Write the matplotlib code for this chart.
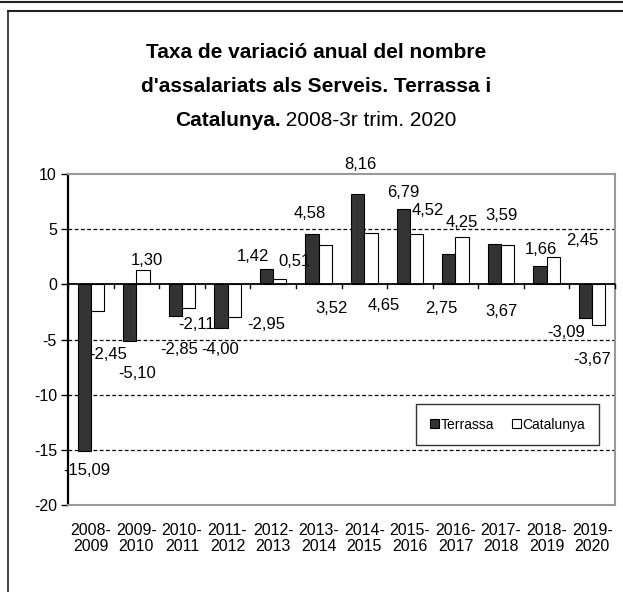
import numpy as np
import matplotlib
matplotlib.use("Agg")
import matplotlib.pyplot as plt
from matplotlib.lines import Line2D

plt.rcParams['font.family'] = ['Liberation Sans', 'DejaVu Sans']
plt.rcParams['axes.unicode_minus'] = False

# dades
periodes = ['2008-\n2009', '2009-\n2010', '2010-\n2011', '2011-\n2012', '2012-\n2013', '2013-\n2014',
            '2014-\n2015', '2015-\n2016', '2016-\n2017', '2017-\n2018', '2018-\n2019', '2019-\n2020']
terrassa = [-15.09, -5.10, -2.85, -4.00, 1.42, 4.58, 8.16, 6.79, 2.75, 3.67, 1.66, -3.09]
catalunya = [-2.45, 1.30, -2.11, -2.95, 0.51, 3.52, 4.65, 4.52, 4.25, 3.59, 2.45, -3.67]

# posicio de les etiquetes (desplaçament x respecte la categoria, y absoluta)
etq_t_dx = [-0.08, 0.01, -0.07, -0.17, -0.44, -0.19, -0.08, -0.15, -0.30, 0.00, -0.13, -0.58]
etq_t_y = [-16.9, -8.1, -5.9, -5.9, 2.5, 6.4, 10.9, 8.3, -2.2, -2.5, 3.2, -4.4]
etq_c_dx = [0.38, 0.23, 0.33, 0.84, 0.46, 0.29, 0.43, 0.39, 0.14, 0.02, 0.79, -0.01]
etq_c_y = [-6.4, 2.2, -3.6, -3.6, 2.1, -2.2, -1.9, 6.7, 5.6, 6.2, 4.0, -6.8]

fig = plt.figure(figsize=(6.23, 5.92), dpi=100)
ax = fig.add_axes([68 / 623, 1 - 505 / 592, 547 / 623, 331 / 592])

x = np.arange(len(periodes))
w = 0.29
ax.bar(x - w / 2, terrassa, w, color='#333333', edgecolor='black', linewidth=0.8, label='Terrassa', zorder=3)
ax.bar(x + w / 2, catalunya, w, color='white', edgecolor='black', linewidth=0.8, label='Catalunya', zorder=3)

# etiquetes de valor amb coma decimal
for i in range(len(periodes)):
    ax.text(i + etq_t_dx[i], etq_t_y[i], f"{terrassa[i]:.2f}".replace('.', ','),
            ha='center', va='center', fontsize=12)
    ax.text(i + etq_c_dx[i], etq_c_y[i], f"{catalunya[i]:.2f}".replace('.', ','),
            ha='center', va='center', fontsize=12)

ax.set_xlim(-0.5, len(periodes) - 0.5)
ax.set_ylim(-20, 10)
ax.set_yticks([-20, -15, -10, -5, 0, 5, 10])
for yv in [-15, -10, -5, 5]:
    ax.axhline(yv, color='black', linestyle=(0, (3, 2)), linewidth=0.9, zorder=1)
ax.axhline(0, color='black', linewidth=1.3, zorder=4)
# marques de l'eix a zero
for b in np.arange(len(periodes) + 1) - 0.5:
    ax.plot([b, b], [0, -0.35], color='black', linewidth=1, zorder=4, clip_on=False)

ax.set_xticks(x)
ax.set_xticklabels(periodes, fontsize=11.5, linespacing=1.05)
ax.tick_params(axis='x', length=0, pad=13)
ax.tick_params(axis='y', length=5, width=1, labelsize=11.5, pad=3)

ax.spines['left'].set_color('black')
ax.spines['left'].set_linewidth(1.6)
for s in ['top', 'right', 'bottom']:
    ax.spines[s].set_color('#999999')
    ax.spines[s].set_linewidth(1.5)
ax.spines['top'].set_linestyle((0, (4, 1)))
ax.spines['bottom'].set_linestyle((0, (4, 1)))

leg = ax.legend(loc='center', bbox_to_anchor=(0.804, 0.243), ncol=2, fontsize=10,
                frameon=True, fancybox=False, edgecolor='black', borderpad=1.0,
                handlelength=0.6, handleheight=0.6, handletextpad=0.15, columnspacing=1.3)
leg.get_frame().set_linewidth(1.0)

# títol
fig.text(0.507, 1 - 53 / 592, "Taxa de variació anual del nombre", ha='center', va='center',
         fontsize=15, fontweight='bold')
fig.text(0.507, 1 - 87 / 592, "d'assalariats als Serveis. Terrassa i", ha='center', va='center',
         fontsize=15, fontweight='bold')
t1 = fig.text(0, 1 - 120 / 592, "Catalunya.", ha='left', va='center', fontsize=15, fontweight='bold')
t2 = fig.text(0, 1 - 120 / 592, " 2008-3r trim. 2020", ha='left', va='center', fontsize=15)
r = fig.canvas.get_renderer()
w1 = t1.get_window_extent(r).width / (6.23 * 100)
w2 = t2.get_window_extent(r).width / (6.23 * 100)
x0 = 0.507 - (w1 + w2) / 2
t1.set_x(x0)
t2.set_x(x0 + w1)

# marc
fig.add_artist(Line2D([0, 1], [1 - 1.5 / 592, 1 - 1.5 / 592], color='#222222', linewidth=1.5))
fig.add_artist(Line2D([8 / 623, 1], [1 - 10.5 / 592, 1 - 10.5 / 592], color='#222222', linewidth=1.5))
fig.add_artist(Line2D([8 / 623, 8 / 623], [0, 1 - 10.5 / 592], color='#222222', linewidth=1.2))

fig.savefig('out.png', dpi=100)
